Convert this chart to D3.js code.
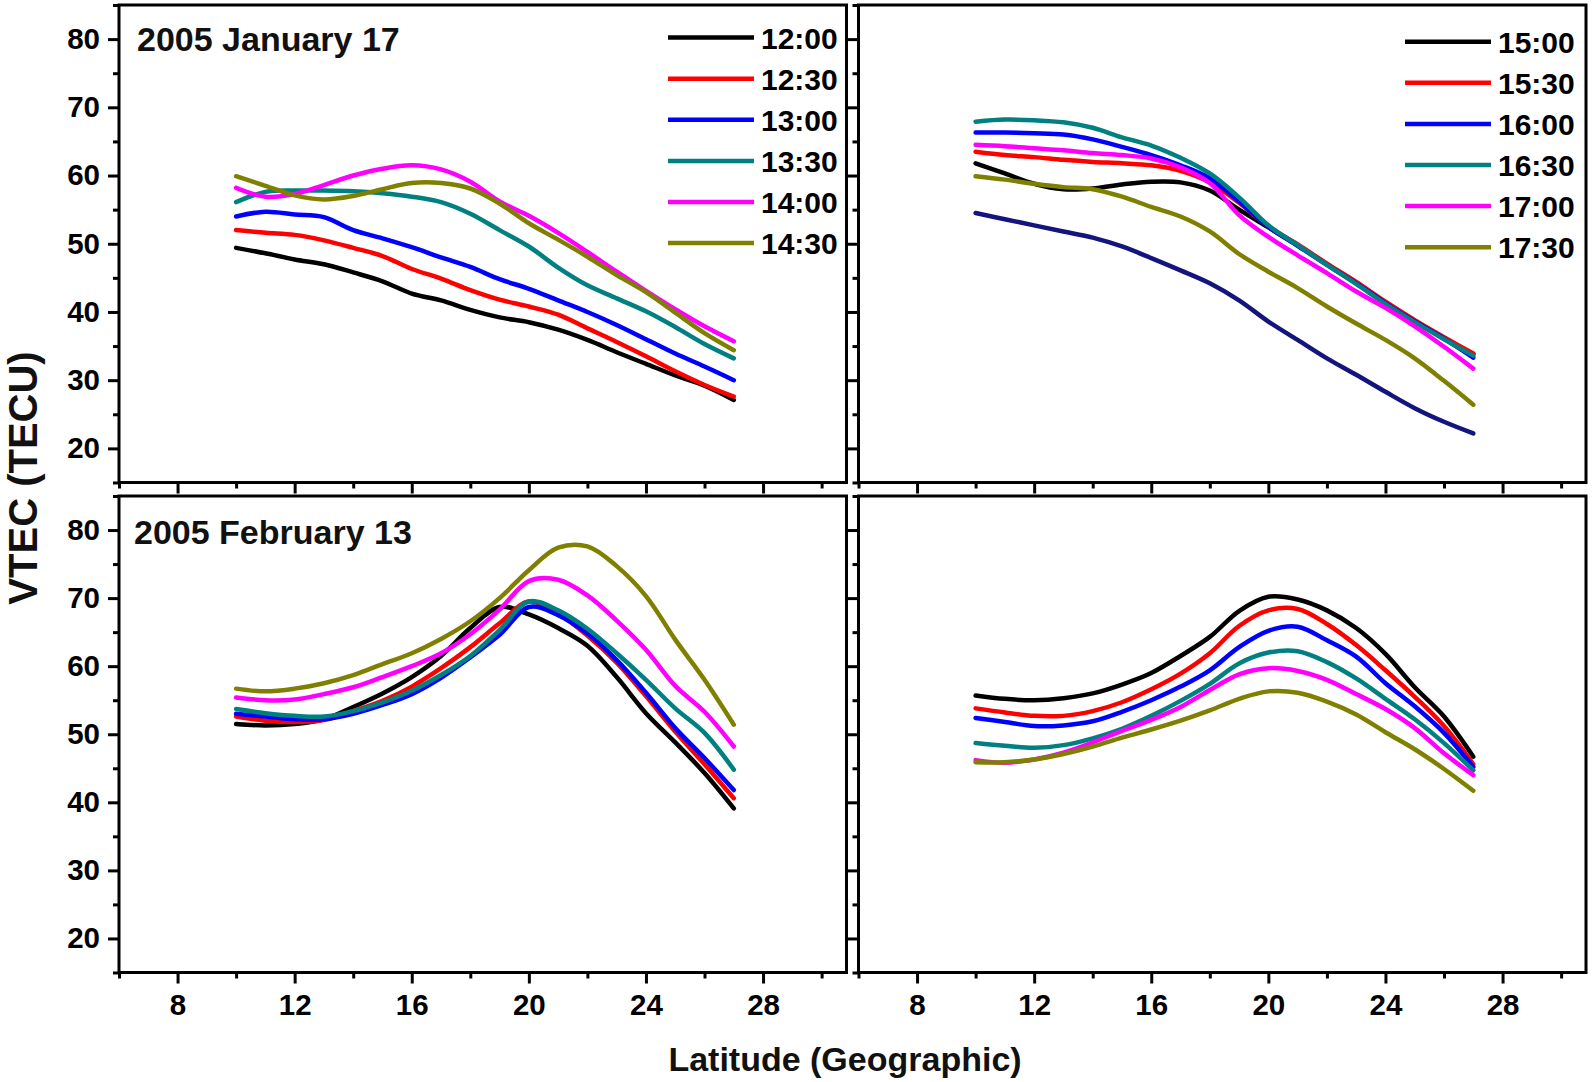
<!DOCTYPE html>
<html><head><meta charset="utf-8">
<script src="https://cdn.jsdelivr.net/npm/d3@7"></script>
<style>
html,body{margin:0;padding:0;background:#fff;}
svg{display:block;font-family:Arial,"Liberation Sans",Helvetica,sans-serif;}
</style></head><body>
<svg id="chart" width="1593" height="1082"></svg>
<script>
// ---------------- data ----------------
const latitudes = [10,11,12,13,14,15,16,17,18,19,20,21,22,23,24,25,26,27];

const earlyTimes = ["12:00","12:30","13:00","13:30","14:00","14:30"];
const lateTimes  = ["15:00","15:30","16:00","16:30","17:00","17:30"];
const seriesColors = ["#000000","#ff0000","#0000ff","#008080","#ff00ff","#808000"];
const extraColor = "#14147f";

// 2005 January 17, 12:00 - 14:30
const jan1200 = [49.4,48.6,47.7,47.0,45.8,44.5,42.7,41.7,40.3,39.2,38.5,37.4,35.9,34.1,32.4,30.7,29.2,27.1];
const jan1230 = [52.0,51.6,51.3,50.5,49.4,48.2,46.3,44.9,43.2,41.8,40.8,39.6,37.6,35.6,33.5,31.3,29.3,27.6];
const jan1300 = [54.0,54.7,54.3,53.9,52.0,50.8,49.5,48.0,46.6,44.8,43.4,41.7,40.0,38.1,36.0,33.9,32.0,30.0];
const jan1330 = [56.1,57.6,57.8,57.8,57.7,57.4,56.9,56.1,54.4,52.0,49.6,46.5,43.9,42.0,40.1,37.8,35.3,33.2];
const jan1400 = [58.2,56.9,57.3,58.6,60.0,61.0,61.5,60.9,59.1,56.2,54.1,51.6,48.8,45.9,43.1,40.4,37.9,35.7];
const jan1430 = [59.9,58.5,57.1,56.5,57.0,58.0,58.9,58.9,58.1,55.9,53.0,50.6,48.1,45.4,42.9,39.9,36.9,34.4];

// 2005 January 17, 15:00 - 17:30 (plus one unlabelled navy curve)
const jan1500 = [61.8,60.3,58.8,58.0,58.1,58.7,59.1,59.0,57.8,55.0,52.4,49.8,47.0,44.3,41.4,38.7,36.2,33.8];
const jan1530 = [63.5,63.0,62.7,62.3,62.0,61.8,61.5,60.7,59.0,56.0,52.5,49.9,47.1,44.4,41.5,38.8,36.3,33.9];
const jan1600 = [66.3,66.3,66.2,66.0,65.3,64.2,63.0,61.5,59.6,56.2,52.5,49.7,46.9,44.2,41.3,38.6,36.1,33.3];
const jan1630 = [67.9,68.2,68.1,67.8,67.0,65.6,64.4,62.6,60.3,56.8,52.7,49.8,46.9,44.1,41.2,38.5,36.0,33.6];
const jan1700 = [64.5,64.3,64.0,63.7,63.3,63.0,62.5,61.2,58.9,54.2,51.0,48.3,45.7,43.0,40.6,37.9,34.9,31.7];
const jan1730 = [59.9,59.4,58.8,58.3,58.0,56.9,55.4,54.0,51.8,48.5,45.9,43.5,40.8,38.3,35.9,33.2,29.9,26.4];
const janNavy = [54.5,53.6,52.7,51.8,50.9,49.6,47.9,46.1,44.2,41.7,38.6,35.9,33.2,30.8,28.3,25.9,23.9,22.2];

// 2005 February 13, 12:00 - 14:30
const feb1200 = [51.5,51.3,51.5,52.2,54.0,56.0,58.4,61.5,65.6,68.7,67.6,65.6,63.0,58.4,53.1,48.8,44.3,39.1];
const feb1230 = [52.6,52.0,51.8,52.1,53.4,54.9,57.0,59.7,62.8,66.3,69.5,67.7,64.5,60.5,55.6,50.4,45.6,40.6];
const feb1300 = [53.0,52.6,52.2,52.2,53.0,54.3,55.9,58.3,61.3,64.6,68.7,67.5,64.8,60.9,56.1,50.9,46.5,41.8];
const feb1330 = [53.7,53.1,52.7,52.6,53.4,54.7,56.4,58.7,61.5,65.3,69.5,68.2,65.5,61.9,58.0,53.8,50.2,44.8];
const feb1400 = [55.4,55.0,55.1,55.9,56.9,58.4,60.0,61.9,64.7,68.3,72.5,72.7,70.4,66.7,62.4,57.1,53.3,48.2];
const feb1430 = [56.7,56.3,56.7,57.5,58.7,60.3,61.9,64.0,66.6,70.0,74.1,77.4,77.6,74.7,70.3,63.9,58.0,51.4];

// 2005 February 13, 15:00 - 17:30
const feb1500 = [55.7,55.2,55.0,55.3,56.0,57.3,59.0,61.5,64.3,68.1,70.2,69.8,68.2,65.6,61.8,56.9,52.6,46.7];
const feb1530 = [53.8,53.2,52.7,52.7,53.4,54.7,56.6,58.9,61.9,65.9,68.2,68.4,66.2,63.1,59.4,55.5,51.2,45.6];
const feb1600 = [52.4,51.8,51.2,51.3,51.9,53.3,55.0,57.0,59.4,62.8,65.2,65.8,63.8,61.4,57.5,54.1,50.2,45.2];
const feb1630 = [48.7,48.3,48.0,48.4,49.4,50.8,52.7,54.9,57.4,60.4,62.0,62.2,60.6,58.2,55.2,52.2,48.7,44.7];
const feb1700 = [46.2,45.8,46.3,47.3,48.8,50.5,52.1,54.0,56.5,58.8,59.7,59.3,58.0,55.9,53.7,50.9,47.2,44.0];
const feb1730 = [45.9,45.9,46.3,47.1,48.2,49.5,50.7,52.0,53.5,55.2,56.3,56.1,54.8,52.9,50.3,47.8,44.9,41.7];

const xMajorTicks = [8,12,16,20,24,28];
const xMinorTicks = [6,10,14,18,22,26,30];
const yMajorTicks = [20,30,40,50,60,70,80];
const yMinorTicks = [15,25,35,45,55,65,75,85];
const xDomain = [6, 30.85];
const yDomain = [15, 85];

// ---------------- layout ----------------
const svg = d3.select("#chart");
const FONT_BOLD = "bold";

const panels = [
  {x0:119,  x1:846.5, y0:5,   y1:482.5, series:[jan1200,jan1230,jan1300,jan1330,jan1400,jan1430], colors:seriesColors,
   title:"2005 January 17", titlePos:[137,50.5], legend:{names:earlyTimes, x:668, y:37.6, dy:41.1}, yLab:true, xLab:false},
  {x0:858.5, x1:1586, y0:5,   y1:482.5, series:[janNavy,jan1500,jan1530,jan1600,jan1630,jan1700,jan1730], colors:[extraColor].concat(seriesColors),
   title:null, legend:{names:lateTimes, x:1405, y:41.7, dy:41.1}, yLab:false, xLab:false},
  {x0:119,  x1:846.5, y0:496, y1:972.5, series:[feb1200,feb1230,feb1300,feb1330,feb1400,feb1430], colors:seriesColors,
   title:"2005 February 13", titlePos:[134,543.5], legend:null, yLab:true, xLab:true},
  {x0:858.5, x1:1586, y0:496, y1:972.5, series:[feb1500,feb1530,feb1600,feb1630,feb1700,feb1730], colors:seriesColors,
   title:null, legend:null, yLab:false, xLab:true}
];

panels.forEach(p => {
  const x = d3.scaleLinear().domain(xDomain).range([p.x0, p.x1]);
  const y = d3.scaleLinear().domain(yDomain).range([p.y1, p.y0]);
  const g = svg.append("g");

  const la = g.append("g").attr("transform", `translate(${p.x0},0)`)
    .call(d3.axisLeft(y).tickValues(yMajorTicks).tickSize(11).tickPadding(8)
      .tickFormat(p.yLab ? d3.format("d") : () => ""));
  const lm = g.append("g").attr("transform", `translate(${p.x0},0)`)
    .call(d3.axisLeft(y).tickValues(yMinorTicks).tickSize(6).tickFormat(() => ""));
  const ba = g.append("g").attr("transform", `translate(0,${p.y1})`)
    .call(d3.axisBottom(x).tickValues(xMajorTicks).tickSize(11).tickPadding(11)
      .tickFormat(p.xLab ? d3.format("d") : () => ""));
  const bm = g.append("g").attr("transform", `translate(0,${p.y1})`)
    .call(d3.axisBottom(x).tickValues(xMinorTicks).tickSize(6).tickFormat(() => ""));

  [la, lm, ba, bm].forEach(a => {
    a.select(".domain").remove();
    a.selectAll(".tick line").attr("stroke", "#000").attr("stroke-width", 3);
    a.selectAll(".tick text").attr("fill", "#000").attr("font-size", 29.5)
      .attr("font-weight", FONT_BOLD).attr("font-family", "Arial, 'Liberation Sans', sans-serif");
  });

  g.append("rect").attr("x", p.x0).attr("y", p.y0)
    .attr("width", p.x1 - p.x0).attr("height", p.y1 - p.y0)
    .attr("fill", "none").attr("stroke", "#000").attr("stroke-width", 3);

  const line = d3.line()
    .x(d => x(d[0])).y(d => y(d[1]))
    .curve(d3.curveCatmullRom.alpha(0.5));
  p.series.forEach((vals, i) => {
    g.append("path")
      .datum(latitudes.map((lat, k) => [lat, vals[k]]))
      .attr("d", line)
      .attr("fill", "none")
      .attr("stroke", p.colors[i])
      .attr("stroke-width", 4.5)
      .attr("stroke-linejoin", "round")
      .attr("stroke-linecap", "round");
  });

  if (p.title) {
    g.append("text").attr("x", p.titlePos[0]).attr("y", p.titlePos[1])
      .attr("font-size", 34).attr("font-weight", FONT_BOLD).attr("fill", "#111")
      .text(p.title);
  }

  if (p.legend) {
    const L = p.legend;
    L.names.forEach((name, i) => {
      const ly = L.y + i * L.dy;
      g.append("line").attr("x1", L.x).attr("x2", L.x + 86)
        .attr("y1", ly).attr("y2", ly)
        .attr("stroke", seriesColors[i]).attr("stroke-width", 4.5);
      g.append("text").attr("x", L.x + 93).attr("y", ly + 11)
        .attr("font-size", 30).attr("font-weight", FONT_BOLD).attr("fill", "#000")
        .text(name);
    });
  }
});

svg.append("text").attr("x", 845).attr("y", 1071)
  .attr("text-anchor", "middle").attr("font-size", 34).attr("font-weight", FONT_BOLD)
  .attr("fill", "#111").text("Latitude (Geographic)");
svg.append("text").attr("transform", "translate(37,478) rotate(-90)")
  .attr("text-anchor", "middle").attr("font-size", 40).attr("font-weight", FONT_BOLD)
  .attr("fill", "#111").text("VTEC (TECU)");
</script>
</body></html>
